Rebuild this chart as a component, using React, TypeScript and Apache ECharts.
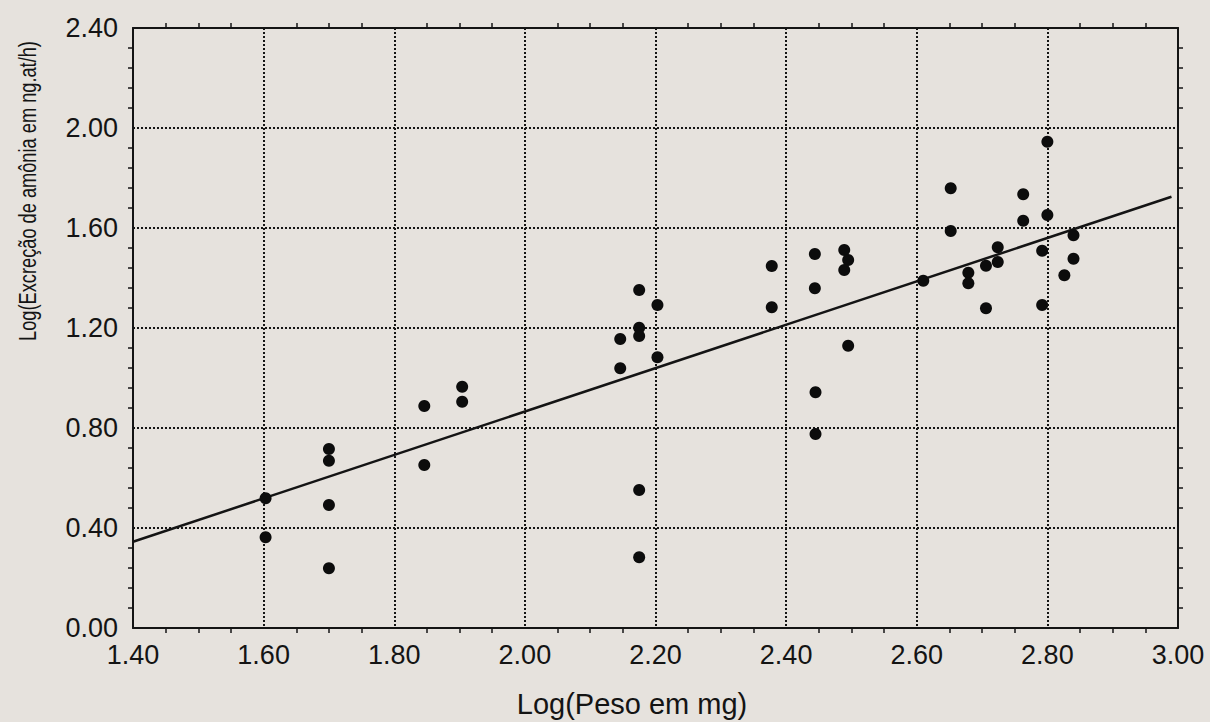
import React, { useEffect, useRef } from "react";
import * as echarts from "echarts";

// Log(Peso em mg) / Log(Excreção de amônia em ng.at/h)
const pointX: number[] = [
  1.603, 1.603, 1.700, 1.700, 1.700, 1.700, 1.846, 1.846, 1.904, 1.904,
  2.146, 2.146, 2.175, 2.175, 2.175, 2.175, 2.175, 2.203, 2.203,
  2.378, 2.378, 2.444, 2.444, 2.445, 2.445, 2.489, 2.495, 2.489, 2.495,
  2.610, 2.652, 2.652, 2.679, 2.679, 2.706, 2.706, 2.724, 2.724,
  2.763, 2.763, 2.800, 2.800, 2.792, 2.792, 2.840, 2.840, 2.826,
];
const pointY: number[] = [
  0.519, 0.363, 0.716, 0.669, 0.492, 0.239, 0.888, 0.652, 0.965, 0.905,
  1.156, 1.039, 1.352, 1.201, 1.168, 0.552, 0.283, 1.292, 1.083,
  1.448, 1.283, 1.496, 1.359, 0.943, 0.776, 1.512, 1.472, 1.432, 1.129,
  1.389, 1.759, 1.588, 1.421, 1.379, 1.449, 1.279, 1.523, 1.464,
  1.735, 1.629, 1.945, 1.652, 1.509, 1.292, 1.571, 1.477, 1.411,
];
// fitted regression line end points
const fitX: number[] = [1.40, 2.99];
const fitY: number[] = [0.345, 1.725];

const xTitle = "Log(Peso em mg)";
const yTitle = "Log(Excreção de amônia em ng.at/h)";

const FONT = "'Liberation Sans', Arial, Helvetica, sans-serif";
const INK = "#141414";

export default function App() {
  const ref = useRef<HTMLDivElement>(null);
  useEffect(() => {
    if (!ref.current) return;
    const chart = echarts.init(ref.current, null, { renderer: "svg" });
    const grid = { left: 133, right: 32, top: 28, bottom: 94 };
    const gridLine = { show: true, lineStyle: { color: INK, width: 2, type: [2, 2] as any } };
    const xCommon = {
      type: "value" as const,
      min: 1.4,
      max: 3.0,
      interval: 0.2,
      axisLine: { show: true, onZero: false, lineStyle: { color: INK, width: 2 } },
      axisTick: { show: false },
      minorTick: { show: true, splitNumber: 4, length: 5, lineStyle: { color: INK, width: 1.5 } },
    };
    const yCommon = {
      type: "value" as const,
      min: 0,
      max: 2.4,
      interval: 0.4,
      axisLine: { show: true, onZero: false, lineStyle: { color: INK, width: 2 } },
      axisTick: { show: false },
      minorTick: { show: true, splitNumber: 5, length: 5, lineStyle: { color: INK, width: 1.5 } },
    };
    chart.setOption({
      animation: false,
      backgroundColor: "#e6e2dd",
      grid,
      xAxis: [
        {
          ...xCommon,
          position: "bottom",
          axisLabel: {
            show: true,
            margin: 13,
            fontSize: 27,
            fontFamily: FONT,
            color: INK,
            formatter: (v: number) => v.toFixed(2),
          },
          splitLine: gridLine,
        },
        {
          ...xCommon,
          position: "top",
          axisLabel: { show: false },
          splitLine: { show: false },
        },
      ],
      yAxis: [
        {
          ...yCommon,
          position: "left",
          axisLabel: {
            show: true,
            margin: 15,
            fontSize: 27,
            fontFamily: FONT,
            color: INK,
            formatter: (v: number) => v.toFixed(2),
          },
          splitLine: gridLine,
        },
        {
          ...yCommon,
          position: "right",
          axisLabel: { show: false },
          splitLine: { show: false },
        },
      ],
      graphic: [
        {
          type: "text",
          x: 632,
          y: 704,
          style: {
            text: xTitle,
            fontSize: 29,
            fontFamily: FONT,
            fill: INK,
            align: "center",
            verticalAlign: "middle",
          },
        },
        {
          type: "text",
          x: 28,
          y: 191,
          rotation: Math.PI / 2,
          scaleX: 0.76,
          style: {
            text: yTitle,
            fontSize: 24,
            fontFamily: FONT,
            fill: INK,
            align: "center",
            verticalAlign: "middle",
          },
        },
      ],
      series: [
        {
          type: "line",
          data: fitX.map((x, i) => [x, fitY[i]]),
          showSymbol: false,
          symbol: "none",
          lineStyle: { color: INK, width: 2.5 },
          silent: true,
          z: 2,
        },
        {
          type: "scatter",
          data: pointX.map((x, i) => [x, pointY[i]]),
          symbol: "circle",
          symbolSize: 12,
          itemStyle: { color: "#0c0c0c", opacity: 1 },
          z: 3,
        },
      ],
    });
    return () => chart.dispose();
  }, []);
  return (
    <div
      ref={ref}
      style={{ position: "fixed", left: 0, top: 0, width: 1210, height: 722 }}
    />
  );
}
